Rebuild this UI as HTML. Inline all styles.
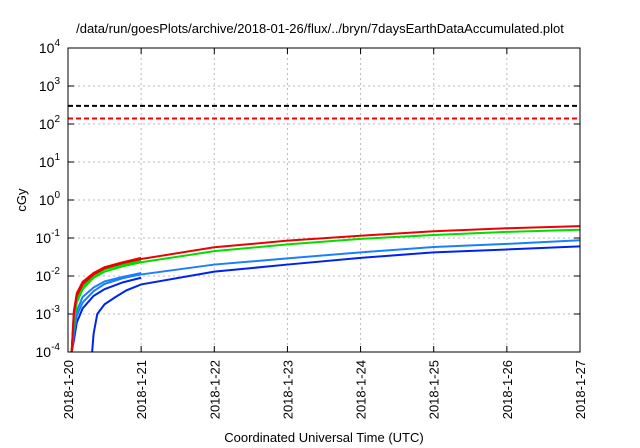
<!DOCTYPE html>
<html><head><meta charset="utf-8"><style>body{margin:0;background:#fff}svg{display:block;font-family:"Liberation Sans",sans-serif}</style></head>
<body>
<svg id="c" width="640" height="448"></svg>
<script>
const days=["2018-1-20","2018-1-21","2018-1-22","2018-1-23","2018-1-24","2018-1-25","2018-1-26","2018-1-27"];
const yExp=[-4,-3,-2,-1,0,1,2,3,4];
const tx=[0.05,0.08,0.12,0.2,0.35,0.5,0.75,1,2,3,4,5,6,7];
const redVals=[0.0001,0.001,0.003,0.006,0.011,0.016,0.022,0.028,0.057,0.085,0.115,0.15,0.18,0.205];
const greenVals=[0.0001,0.0006,0.002,0.0045,0.009,0.013,0.018,0.023,0.045,0.068,0.095,0.12,0.145,0.165];
const lblueVals=[0.0001,0.0003,0.0009,0.002,0.004,0.0062,0.0088,0.011,0.02,0.029,0.042,0.058,0.07,0.087];
const blueX=[0.33,0.35,0.4,0.5,0.65,0.8,1,2,3,4,5,6,7];
const blueVals=[0.0001,0.0003,0.001,0.0018,0.0028,0.0042,0.006,0.013,0.02,0.03,0.042,0.05,0.06];
const shortX=[0.05,0.08,0.12,0.2,0.35,0.5,0.75,1];
const shortRed=[0.0001,0.0012,0.0035,0.007,0.012,0.017,0.023,0.03];
const shortGreen=[0.0001,0.0008,0.0025,0.005,0.01,0.015,0.02,0.025];
const shortLblue=[0.0001,0.0004,0.0012,0.0028,0.005,0.0072,0.0095,0.012];
const shortBlue=[0.0001,0.0002,0.0006,0.0014,0.003,0.0045,0.0068,0.009];
const thresholds=[300,140];
const L=68,R=580,T=48,B=352;
const X=d=>L+(R-L)*d/7;
const Y=v=>B-(B-T)*(Math.log10(v)+4)/8;
const s=document.getElementById('c');const NS='http://www.w3.org/2000/svg';
function el(t,a,p){const e=document.createElementNS(NS,t);for(const k in a)e.setAttribute(k,a[k]);(p||s).appendChild(e);return e;}
let t=el('text',{x:320,y:33,'text-anchor':'middle','font-size':13});t.textContent='/data/run/goesPlots/archive/2018-01-26/flux/../bryn/7daysEarthDataAccumulated.plot';

yExp.forEach(e=>{const y=Y(Math.pow(10,e));
 if(e>-4&&e<4){const g=el('line',{x1:L,x2:R,y1:y,y2:y,stroke:'#bbb','stroke-dasharray':'2,3'});}
 el('line',{x1:L,x2:L+6,y1:y,y2:y,stroke:'#000'});el('line',{x1:R,x2:R-6,y1:y,y2:y,stroke:'#000'});
 const tt=el('text',{x:L-8,y:y+5,'text-anchor':'end','font-size':14});tt.textContent='10';
 const sp=el('tspan',{dy:-7,'font-size':10},tt);sp.textContent=e;
 });
days.forEach((d,i)=>{const x=X(i);
 if(i>0&&i<7){const g=el('line',{x1:x,x2:x,y1:T,y2:B,stroke:'#bbb','stroke-dasharray':'2,3'});}
 el('line',{x1:x,x2:x,y1:B,y2:B-6,stroke:'#000'});el('line',{x1:x,x2:x,y1:T,y2:T+6,stroke:'#000'});
 const tt=el('text',{x:x+5,y:B+8,'text-anchor':'end','font-size':13,transform:`rotate(-90 ${x+5} ${B+8})`});tt.textContent=d;
 });
const cols=['#000','#f00'];
thresholds.forEach((v,i)=>{const l=el('line',{x1:L,x2:R,y1:Y(v),y2:Y(v),stroke:cols[i],'stroke-width':2,'stroke-dasharray':'5,3'});});
function series(xs,vs,c,n){const p=el('polyline',{points:xs.map((x,i)=>X(x)+','+Y(vs[i])).join(' '),fill:'none',stroke:c,'stroke-width':2});}
series(shortX,shortBlue,'#0022ee','blue-short');
series(shortX,shortLblue,'#1a7fff','lightblue-short');
series(blueX,blueVals,'#0022ee','blue-series');
series(tx,lblueVals,'#1a7fff','lightblue-series');
series(shortX,shortGreen,'#00dd00','green-short');
series(tx,greenVals,'#00dd00','green-series');
series(shortX,shortRed,'#ee0000','red-short');
series(tx,redVals,'#ee0000','red-series');
const f=el('rect',{x:L,y:T,width:R-L,height:B-T,fill:'none',stroke:'#000'});
t=el('text',{x:26,y:200,'text-anchor':'middle','font-size':13,transform:'rotate(-90 26 200)'});t.textContent='cGy';
t=el('text',{x:324,y:442,'text-anchor':'middle','font-size':13});t.textContent='Coordinated Universal Time (UTC)';
</script>
</body></html>
